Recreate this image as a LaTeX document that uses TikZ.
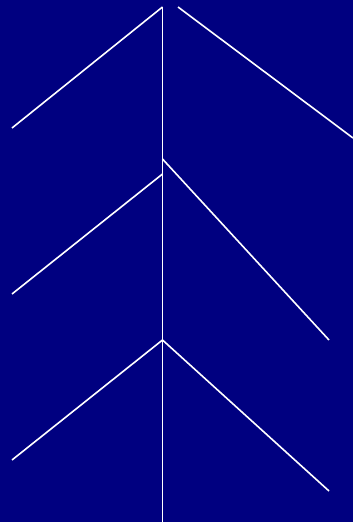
\documentclass[tikz,border=0pt]{standalone}
\usepackage{xcolor}
\usepackage{tikz}
\definecolor{rnavy}{HTML}{000080}
\tikzset{stroke/.style={white,line width=1.6pt}}

\begin{document}
\begin{tikzpicture}[x=1pt,y=-1pt]
  \fill[rnavy] (0,0) rectangle (353,522);
  \useasboundingbox (0,0) rectangle (353,522);
  % stem
  \coordinate (top) at (162.5,7);
  \coordinate (bot) at (162.5,522);
  \draw[stroke] (top) -- (bot);
  % top pair
  \coordinate (l1) at (12,128);
  \coordinate (r1s) at (178,7);
  \coordinate (r1) at (353,138);
  \draw[stroke] (top) -- (l1);
  \draw[stroke] (r1s) -- (r1);
  % middle pair
  \coordinate (m2l) at (162.5,174);
  \coordinate (m2r) at (162.5,159);
  \coordinate (l2) at (12,294);
  \coordinate (r2) at (329,340);
  \draw[stroke] (m2l) -- (l2);
  \draw[stroke] (m2r) -- (r2);
  % bottom pair
  \coordinate (m3) at (162.5,340);
  \coordinate (l3) at (12,460);
  \coordinate (r3) at (329,491);
  \draw[stroke] (m3) -- (l3);
  \draw[stroke] (m3) -- (r3);
\end{tikzpicture}
\end{document}
